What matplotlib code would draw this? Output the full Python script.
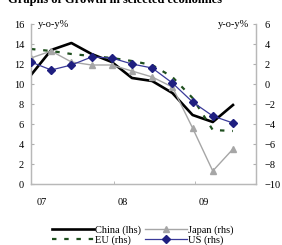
import numpy as np
import matplotlib.pyplot as plt
from matplotlib.lines import Line2D

# quarterly observations, 2007Q1 .. 2009Q3
quarters = np.arange(11)
china = [10.9, 13.4, 14.1, 13.0, 12.2, 10.6, 10.3, 9.1, 6.9, 6.2, 7.9]
japan = [2.6, 3.3, 2.2, 1.9, 1.9, 1.3, 0.7, -0.3, -4.4, -8.7, -6.5]
eu = [3.5, 3.3, 3.0, 2.8, 2.6, 2.3, 1.9, 0.7, -1.4, -4.6, -4.7]
us = [2.2, 1.4, 1.9, 2.7, 2.6, 2.0, 1.6, 0.1, -1.8, -3.2, -3.9]
year_labels = ["07", "08", "09"]

plt.rcParams["font.family"] = ["Liberation Serif", "DejaVu Serif"]
plt.rcParams["font.size"] = 7.5

fig = plt.figure(figsize=(2.82, 2.45), dpi=100)
ax = fig.add_axes([31 / 282, 61 / 245, 225 / 282, 160 / 245])
ax2 = ax.twinx()

ax.plot(quarters, china, color="black", linewidth=1.9, zorder=3)
ax2.plot(quarters, japan, color="#a6a6a6", linewidth=1.0, marker="^",
         markersize=5, markeredgecolor="#a6a6a6", zorder=2)
ax2.plot(quarters, eu, color="#1f4f1f", linewidth=1.6, linestyle=(0, (2, 3.5)), zorder=2)
ax2.plot(quarters, us, color="#3a3a99", linewidth=0.9, marker="D",
         markersize=4, markerfacecolor="#1f1f80", markeredgecolor="#1f1f80", zorder=4)

ax.set_xlim(0, 11.14)
ax.set_ylim(0, 16)
ax2.set_ylim(-10, 6)
ax.set_yticks(np.arange(0, 17, 2))
ax2.set_yticks(np.arange(-10, 7, 2))

ax.set_xticks([0.55, 4.55, 8.55])
ax.set_xticklabels(year_labels)
ax.tick_params(axis="x", which="major", length=0, pad=10)
ax.set_xticks([4.1, 8.1], minor=True)
ax.tick_params(axis="x", which="minor", length=2.5, direction="in", color="#b0b0b0")

ax.tick_params(axis="y", direction="in", length=2.5, pad=5, color="#b0b0b0")
ax2.tick_params(axis="y", direction="in", length=2.5, pad=6, color="#b0b0b0")

for a in (ax, ax2):
    a.spines["top"].set_visible(False)
    for s in ("left", "right", "bottom"):
        a.spines[s].set_color("#b8b8b8")
        a.spines[s].set_linewidth(0.9)

ax.text(0.03, 1.0, "y-o-y%", transform=ax.transAxes, ha="left", va="center")
ax.text(0.97, 1.0, "y-o-y%", transform=ax.transAxes, ha="right", va="center")

handles = [
    Line2D([], [], color="black", linewidth=1.9),
    Line2D([], [], color="#1f4f1f", linewidth=1.6, linestyle=(0, (2, 3.5))),
    Line2D([], [], color="#a6a6a6", linewidth=1.0, marker="^", markersize=5),
    Line2D([], [], color="#3a3a99", linewidth=0.9, marker="D", markersize=4,
           markerfacecolor="#1f1f80", markeredgecolor="#1f1f80"),
]
labels = ["China (lhs)", "EU (rhs)", "Japan (rhs)", "US (rhs)"]
fig.legend(handles, labels, ncol=2, loc="center", bbox_to_anchor=(143 / 282, 1 - 235 / 245),
           frameon=False, handlelength=4.0, handletextpad=0.1, columnspacing=0.4,
           labelspacing=0.05, borderpad=0)

fig.text(222 / 282, 1 - 3 / 245, "Graphs of Growth in selected economies",
         ha="right", va="baseline", fontsize=9, fontweight="bold")

fig.savefig("out.png", dpi=100)
